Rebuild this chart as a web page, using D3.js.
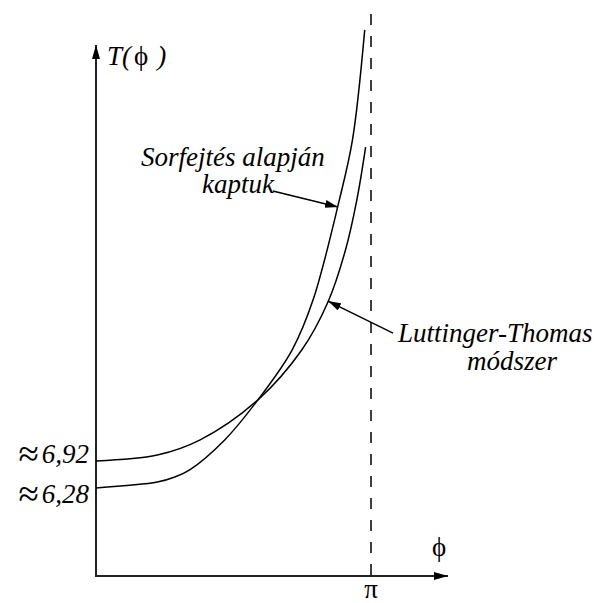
<!DOCTYPE html>
<html>
<head>
<meta charset="utf-8">
<script src="https://cdn.jsdelivr.net/npm/d3@7"></script>
<style>
  html, body { margin: 0; padding: 0; background: #fff; }
  text { font-family: "Liberation Serif", "DejaVu Serif", serif; }
</style>
</head>
<body>
<svg id="chart" width="600" height="603"></svg>
<script>
// Series values: period T as a function of phi
const phiSeries = [0, 0.70, 0.90, 1.07, 1.47, 1.85, 2.24, 2.48, 2.78, 2.93, 3.07];
const tSeries   = [6.28, 6.42, 6.54, 6.71, 7.42, 8.37, 9.55, 10.74, 13.11, 14.53, 17.14];

const phiLT = [0, 0.70, 1.19, 1.85, 2.35, 2.65, 2.85, 2.98, 3.08];
const tLT   = [6.92, 7.06, 7.42, 8.37, 9.55, 10.69, 11.92, 13.11, 14.36];

// Tick labels on the T axis
const tickValues = [6.92, 6.28];
const tickLabels = ["6,92", "6,28"];

// Annotation arrows [phi, T] from label to curve
const arrowSeries = [[2.02, 13.32], [2.765, 12.94]];
const arrowLT     = [[3.393, 9.95], [2.65, 10.71]];

const SERIF = "Liberation Serif";
const font = 27;

const svg = d3.select("#chart");

const x = d3.scaleLinear().domain([0, Math.PI]).range([96, 371]);
const y = d3.scaleLinear().domain([6.28, 6.92]).range([488, 461]);

const originX = 96, originY = 576;

function label(px, py, str, italic) {
  return svg.append("text")
    .attr("x", px).attr("y", py)
    .style("font-family", SERIF).attr("font-size", font)
    .attr("font-style", italic ? "italic" : "normal")
    .attr("fill", "#000")
    .text(str);
}

// arrow markers
const defs = svg.append("defs");
defs.append("marker")
  .attr("id", "axisHead").attr("viewBox", "0 0 14 8")
  .attr("refX", 14).attr("refY", 4)
  .attr("markerWidth", 14).attr("markerHeight", 8)
  .attr("markerUnits", "userSpaceOnUse").attr("orient", "auto")
  .append("path").attr("d", "M0,0 L14,4 L0,8 Z").attr("fill", "#000");
defs.append("marker")
  .attr("id", "noteHead").attr("viewBox", "0 0 13 8")
  .attr("refX", 13).attr("refY", 4)
  .attr("markerWidth", 13).attr("markerHeight", 8)
  .attr("markerUnits", "userSpaceOnUse").attr("orient", "auto")
  .append("path").attr("d", "M0,0 L13,4 L0,8 Z").attr("fill", "#000");

// axes with arrowheads
svg.append("line")
  .attr("x1", originX).attr("y1", originY).attr("x2", originX).attr("y2", 45)
  .attr("stroke", "#222").attr("stroke-width", 2).attr("marker-end", "url(#axisHead)");
svg.append("line")
  .attr("x1", originX - 1).attr("y1", originY).attr("x2", 448).attr("y2", originY)
  .attr("stroke", "#222").attr("stroke-width", 2).attr("marker-end", "url(#axisHead)");

// asymptote at phi = pi
svg.append("line")
  .attr("x1", x(Math.PI)).attr("x2", x(Math.PI))
  .attr("y1", 14).attr("y2", originY)
  .attr("stroke", "#000").attr("stroke-width", 1.5)
  .attr("stroke-dasharray", "11,11");

// curves
const line = d3.line().x(d => x(d[0])).y(d => y(d[1])).curve(d3.curveCatmullRom.alpha(0.5));
[[phiSeries, tSeries], [phiLT, tLT]].forEach(([ps, ts]) => {
  svg.append("path")
    .datum(ps.map((p, i) => [p, ts[i]]))
    .attr("d", line)
    .attr("fill", "none").attr("stroke", "#000").attr("stroke-width", 1.5);
});

// T axis labels
const labelOffset = [1, 14];
const yAxis = svg.append("g")
  .attr("transform", `translate(${originX},0)`)
  .call(d3.axisLeft(y).tickValues(tickValues).tickSize(0).tickPadding(7)
    .tickFormat((d, i) => tickLabels[i]));
yAxis.attr("font-family", null).attr("font-size", font);
yAxis.select(".domain").remove();
yAxis.selectAll(".tick text")
  .style("font-family", SERIF)
  .attr("dy", null)
  .attr("fill", "#000")
  .attr("y", (d, i) => labelOffset[i])
  .each(function(d, i) {
    const t = d3.select(this);
    t.text(null);
    t.append("tspan").attr("font-style", "normal").attr("font-size", 37)
      .attr("dy", 3).text("\u2248");
    t.append("tspan").attr("font-style", "italic").attr("dx", 3).attr("dy", -3)
      .text(tickLabels[i]);
  });

// axis titles
const tTitle = svg.append("text").attr("x", 107).attr("y", 65)
  .style("font-family", SERIF).attr("font-size", font);
tTitle.append("tspan").attr("font-style", "italic").text("T(");
tTitle.append("tspan").attr("font-style", "normal").attr("dx", 3).text("\u03D5");
tTitle.append("tspan").attr("font-style", "italic").attr("dx", 9).text(")");

label(432, 556, "\u03D5", false);
label(x(Math.PI), 598, "\u03C0", false).attr("text-anchor", "middle");

// annotations
label(141, 166, "Sorfejtés alapján", true);
label(202, 193, "kaptuk", true);
label(398, 342, "Luttinger-Thomas", true);
label(467, 370, "módszer", true);

[arrowSeries, arrowLT].forEach(a => {
  svg.append("line")
    .attr("x1", x(a[0][0])).attr("y1", y(a[0][1]))
    .attr("x2", x(a[1][0])).attr("y2", y(a[1][1]))
    .attr("stroke", "#000").attr("stroke-width", 1.5)
    .attr("marker-end", "url(#noteHead)");
});
</script>
</body>
</html>
